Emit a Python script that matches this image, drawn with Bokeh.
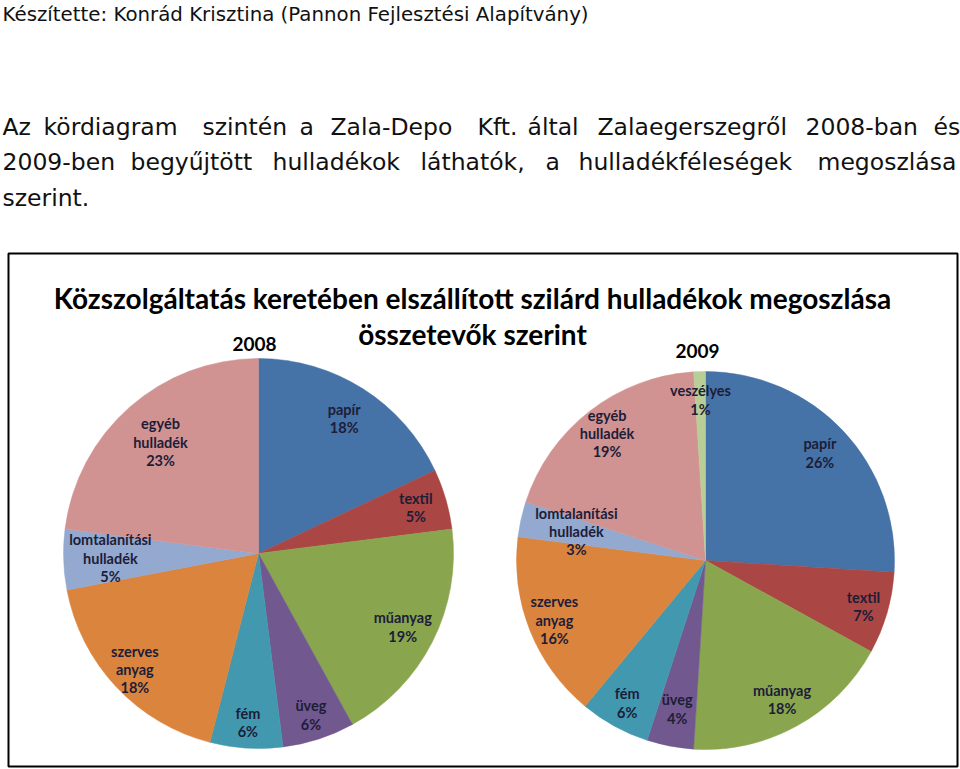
import math
from bokeh.plotting import figure
from bokeh.models import Range1d
from bokeh.core.properties import value
from bokeh.embed import file_html
from bokeh.resources import INLINE

# ---------------- data ----------------
cats_2008 = ["papír", "textil", "műanyag", "üveg", "fém", "szerves\nanyag",
             "lomtalanítási\nhulladék", "egyéb\nhulladék"]
vals_2008 = [18, 5, 19, 6, 6, 18, 5, 23]

cats_2009 = ["papír", "textil", "műanyag", "üveg", "fém", "szerves\nanyag",
             "lomtalanítási\nhulladék", "egyéb\nhulladék", "veszélyes"]
vals_2009 = [26, 7, 18, 4, 6, 16, 3, 19, 1]

colors = {
    "papír": "#4572A7", "textil": "#AA4643", "műanyag": "#89A54E",
    "üveg": "#71588F", "fém": "#4198AF", "szerves\nanyag": "#DB843D",
    "lomtalanítási\nhulladék": "#93A9CF", "egyéb\nhulladék": "#D19392",
    "veszélyes": "#B9CD96",
}

header = "Készítette: Konrád Krisztina (Pannon Fejlesztési Alapítvány)"
para_lines = [
    "Az kördiagram szintén a Zala-Depo Kft. által Zalaegerszegről 2008-ban és",
    "2009-ben begyűjtött hulladékok láthatók, a hulladékféleségek megoszlása",
    "szerint.",
]
chart_title = ["Közszolgáltatás keretében elszállított szilárd hulladékok megoszlása",
               "összetevők szerint"]

# ---------------- layout ----------------
W, H = 960, 769
TOP = 769


def Y(y):
    return TOP - y


p = figure(width=W, height=H, output_backend="svg", toolbar_location=None,
           x_range=Range1d(0, 960), y_range=Range1d(0, 769), min_border=0)
p.axis.visible = False
p.grid.visible = False
p.outline_line_color = None
p.background_fill_color = "white"
p.border_fill_color = "white"

# header text
p.text(x=[2], y=[Y(14)], text=[header], text_font=value("DejaVu Sans"),
       text_font_size="19.8px", text_color="#111111", text_baseline="middle",
       text_align="left")

# justified paragraph: word x-positions per line
word_x = [
    [2, 43, 202, 299, 330, 477, 527, 597, 805, 933],
    [2, 130, 272, 420, 545, 578, 817],
    [2],
]
para_y = [126, 161, 197]
for line, xs, yy in zip(para_lines, word_x, para_y):
    words = line.split(" ")
    p.text(x=xs, y=[Y(yy)] * len(words), text=words,
           text_font=value("DejaVu Sans"), text_font_size="23.5px",
           text_color="#111111", text_baseline="middle", text_align="left")

# chart box
p.quad(left=[8], right=[957], top=[Y(253)], bottom=[Y(766)],
       fill_color=None, line_color="black", line_width=2)

# chart title
p.text(x=[472, 472], y=[Y(297), Y(333)], text=chart_title,
       text_font=value("Lato"), text_font_style="bold", text_font_size="28px",
       text_color="#000000", text_baseline="middle", text_align="center")
p.text(x=[254, 697], y=[Y(343), Y(350)], text=["2008", "2009"],
       text_font=value("Lato"), text_font_style="bold", text_font_size="19px",
       text_color="#000000", text_baseline="middle", text_align="center")


def draw_pie(cats, vals, cx, cy, r, label_frac):
    total = float(sum(vals))
    cum = 0.0
    starts, ends, cols, lx, ly, labels = [], [], [], [], [], []
    for c, v, f in zip(cats, vals, label_frac):
        a0 = cum / total
        cum += v
        a1 = cum / total
        starts.append(math.pi / 2 - 2 * math.pi * a0)
        ends.append(math.pi / 2 - 2 * math.pi * a1)
        cols.append(colors[c])
        mid = 2 * math.pi * (a0 + a1) / 2
        lx.append(cx + f * r * math.sin(mid))
        ly.append(Y(cy) + f * r * math.cos(mid))
        labels.append(f"{c}\n{v}%")
    p.wedge(x=[cx] * len(vals), y=[Y(cy)] * len(vals), radius=r,
            start_angle=starts, end_angle=ends, direction="clock",
            fill_color=cols, line_color=cols, line_width=0.5)
    p.text(x=lx, y=ly, text=labels, text_font=value("Lato"),
           text_font_style="bold", text_font_size="14.5px",
           text_color="#1d1d38", text_baseline="middle", text_align="center",
           text_line_height=1.08)


draw_pie(cats_2008, vals_2008, 258, 553, 195,
         [0.82, 0.84, 0.83, 0.87, 0.87, 0.87, 0.76, 0.76])
draw_pie(cats_2009, vals_2009, 705, 560, 189,
         [0.83, 0.87, 0.84, 0.80, 0.86, 0.86, 0.70, 0.85, 0.85])

open("out.html", "w").write(file_html(p, INLINE))
